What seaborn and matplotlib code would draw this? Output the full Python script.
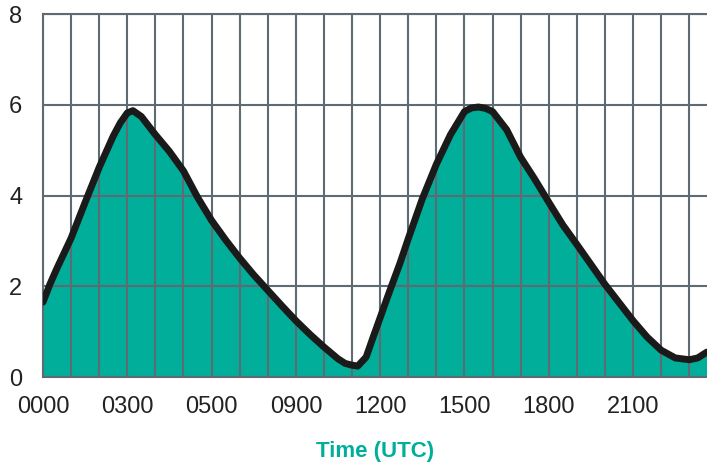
import matplotlib
matplotlib.use("Agg")
import matplotlib.pyplot as plt
import seaborn as sns
import pandas as pd

hours = [0, 0.25, 0.5, 1, 1.5, 2, 2.5, 2.75, 3, 3.2, 3.5, 4, 4.5, 5, 5.5, 6, 6.5, 7,
         7.5, 8, 8.5, 9, 9.5, 10, 10.5, 10.75, 11, 11.2, 11.5, 11.75, 12, 12.2, 12.4,
         12.7, 13, 13.5, 14, 14.5, 15, 15.25, 15.5, 15.75, 16, 16.5, 17, 17.5, 18, 18.5,
         19, 19.5, 20, 20.5, 21, 21.5, 22, 22.5, 23, 23.3, 23.63]
height = [1.65, 2.05, 2.4, 3.06, 3.85, 4.62, 5.31, 5.6, 5.82, 5.87, 5.74, 5.34, 4.97,
          4.54, 3.96, 3.45, 3.02, 2.62, 2.25, 1.91, 1.57, 1.24, 0.94, 0.66, 0.4, 0.3,
          0.26, 0.24, 0.44, 0.88, 1.31, 1.66, 2.0, 2.5, 3.05, 3.93, 4.69, 5.34, 5.85,
          5.93, 5.95, 5.92, 5.85, 5.45, 4.84, 4.36, 3.85, 3.35, 2.92, 2.48, 2.04, 1.64,
          1.24, 0.88, 0.59, 0.42, 0.38, 0.42, 0.55]
tick_pos = [0, 3, 6, 9, 12, 15, 18, 21]
tick_labels = ["0000", "0300", "0500", "0900", "1200", "1500", "1800", "2100"]
y_ticks = [0, 2, 4, 6, 8]

df = pd.DataFrame({"hour": hours, "height": height})

sns.set_theme(style="white")
plt.rcParams["font.family"] = ["Liberation Sans", "DejaVu Sans"]

TEAL = "#00ae9a"
GRID = "#5f6b73"

fig = plt.figure(figsize=(7.07, 4.63), dpi=100)
ax = fig.add_axes([43 / 707, 86 / 463, 664 / 707, 363 / 463])

ax.fill_between(df["hour"], df["height"], 0, color=TEAL, zorder=1, linewidth=0)
sns.lineplot(data=df, x="hour", y="height", ax=ax, color="#1a1a1a", linewidth=5,
             zorder=3, solid_capstyle="round", solid_joinstyle="round")

ax.set_xlim(0, 23.63)
ax.set_ylim(0, 8)
ax.set_xticks(tick_pos)
ax.set_xticklabels(tick_labels)
ax.set_xticks(range(0, 24), minor=True)
ax.set_yticks(y_ticks)
ax.set_yticklabels([str(v) for v in y_ticks])

ax.set_axisbelow(False)
ax.grid(True, which="both", axis="x", color=GRID, linewidth=1.5)
ax.grid(True, which="major", axis="y", color=GRID, linewidth=1.5)

for s in ["left", "top", "bottom"]:
    ax.spines[s].set_visible(True)
    ax.spines[s].set_color(GRID)
    ax.spines[s].set_linewidth(1.5)
    ax.spines[s].set_zorder(2.5)
ax.spines["right"].set_visible(False)

ax.tick_params(axis="both", which="both", length=0, labelsize=17, colors="#222222")
ax.tick_params(axis="x", pad=14)
ax.tick_params(axis="y", pad=15)

ax.set_xlabel("Time (UTC)", fontsize=16, fontweight="bold", color=TEAL, labelpad=16)
ax.set_ylabel("")

fig.savefig("out.png", dpi=100)
